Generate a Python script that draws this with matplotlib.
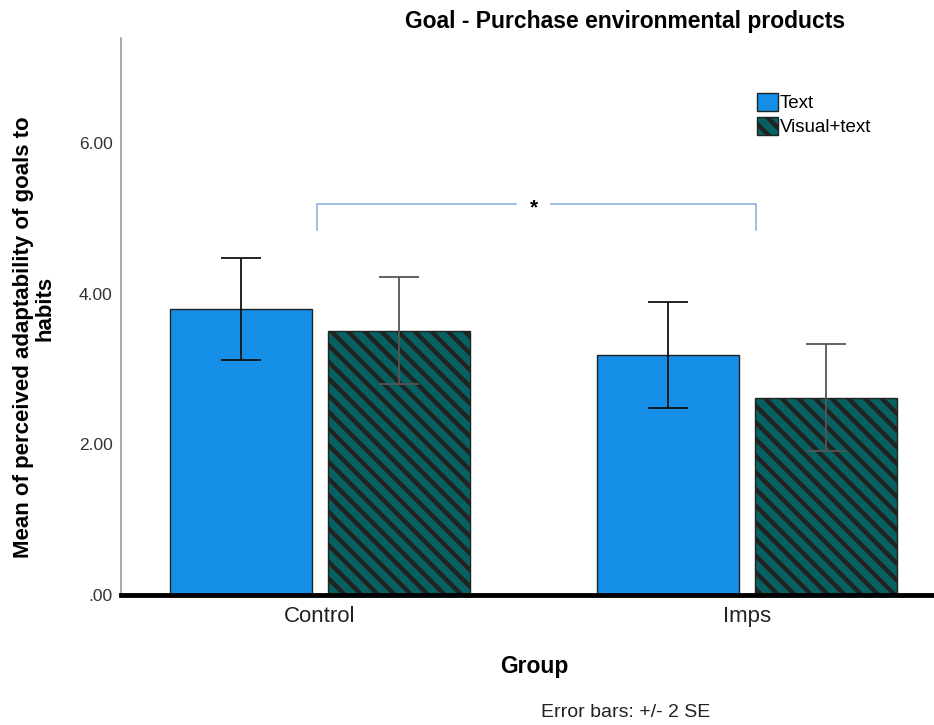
import numpy as np
import matplotlib.pyplot as plt
from matplotlib.patches import Patch

plt.rcParams['font.family'] = ['Liberation Sans', 'DejaVu Sans']
plt.rcParams['hatch.linewidth'] = 3.2

groups = ['Control', 'Imps']
conditions = ['Text', 'Visual+text']
means_text = [3.80, 3.19]
means_visual = [3.51, 2.62]
err_text = [0.68, 0.70]
err_visual = [0.71, 0.71]

fig = plt.figure(figsize=(9.34, 7.25), dpi=100)
ax = fig.add_axes([0.1296, 0.1793, 0.8704, 0.7683])

x = np.arange(len(groups))
w = 0.333
off = 0.185
blue = '#148ee6'
teal = '#066262'

ax.bar(x - off, means_text, w, color=blue, edgecolor='#222222', linewidth=1, zorder=2)
ax.bar(x + off, means_visual, w, color=teal, edgecolor='#222222', linewidth=1,
       hatch='\\\\', zorder=2)
ax.errorbar(x - off, means_text, yerr=err_text, fmt='none', ecolor='#111111',
            elinewidth=1.3, capsize=14.5, capthick=1.3, zorder=3)
ax.errorbar(x + off, means_visual, yerr=err_visual, fmt='none', ecolor='#555555',
            elinewidth=1.3, capsize=14.5, capthick=1.3, zorder=3)

# significance bracket between the groups
bx0, bx1, by, bh = -0.007, 1.021, 5.19, 0.34
ax.plot([bx0, bx0, 0.46], [by - bh, by, by], color='#8fb0df', lw=1.2, zorder=1)
ax.plot([0.54, bx1, bx1], [by, by, by - bh], color='#8fb0df', lw=1.2, zorder=1)
ax.text(0.502, by - 0.05, '*', ha='center', va='center', fontsize=15, fontweight='bold')

ax.set_xlim(-0.466, 1.438)
ax.set_ylim(0, 7.4)
ax.set_yticks([0, 2, 4, 6])
ax.set_yticklabels(['.00', '2.00', '4.00', '6.00'], fontsize=12.5, color='#333333')
ax.set_xticks(x)
ax.set_xticklabels(groups, fontsize=16, color='#222222')
ax.tick_params(length=0, pad=6)
ax.tick_params(axis='x', pad=8)

for s in ['top', 'right']:
    ax.spines[s].set_visible(False)
ax.spines['left'].set_color('#999999')
ax.spines['left'].set_linewidth(1.2)
ax.spines['bottom'].set_color('black')
ax.spines['bottom'].set_linewidth(3.5)

fig.text(0.669, 0.971, 'Goal - Purchase environmental products', ha='center', va='center',
         fontsize=16.5, fontweight='bold')
fig.text(0.5717, 0.08, 'Group', ha='center', va='center', fontsize=16.5, fontweight='bold')
fig.text(0.025, 0.535, 'Mean of perceived adaptability of goals to', rotation=90,
         ha='center', va='center', fontsize=16, fontweight='bold')
fig.text(0.048, 0.575, 'habits', rotation=90,
         ha='center', va='center', fontsize=16, fontweight='bold')
fig.text(0.67, 0.017, 'Error bars: +/- 2 SE', ha='center', va='center', fontsize=14, color='#222222')

handles = [Patch(facecolor=blue, edgecolor='#222222'),
           Patch(facecolor=teal, edgecolor='#222222', hatch='\\\\')]
ax.legend(handles, conditions, loc='upper left', bbox_to_anchor=(0.773, 0.915), frameon=False,
          fontsize=13.5, handlelength=1.1, handleheight=1.1, handletextpad=0.1,
          labelspacing=0.25, borderaxespad=0)

fig.savefig('out.png', dpi=100)
